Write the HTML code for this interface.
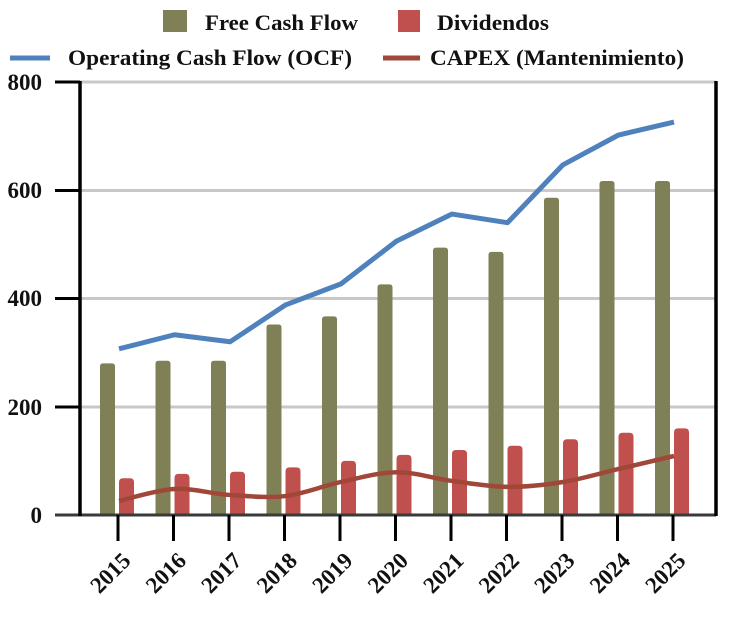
<!DOCTYPE html>
<html><head><meta charset="utf-8"><style>
body{margin:0;background:#fff}
svg text{font-family:"Liberation Serif",serif;font-weight:bold;fill:#111}
</style></head><body>
<svg width="750" height="613" viewBox="0 0 750 613" xmlns="http://www.w3.org/2000/svg">
<rect width="750" height="613" fill="#fff"/>
<rect x="163" y="10" width="24" height="22" fill="#7f8055"/>
<text x="205" y="30" font-size="22" textLength="153" lengthAdjust="spacingAndGlyphs">Free Cash Flow</text>
<rect x="398" y="10" width="22" height="22" fill="#c0504d"/>
<text x="437" y="30" font-size="22" textLength="112" lengthAdjust="spacingAndGlyphs">Dividendos</text>
<line x1="10" y1="58" x2="50" y2="58" stroke="#4f81bd" stroke-width="5"/>
<text x="68" y="65" font-size="22" textLength="284" lengthAdjust="spacingAndGlyphs">Operating Cash Flow (OCF)</text>
<line x1="383" y1="58" x2="420" y2="58" stroke="#a0473a" stroke-width="5"/>
<text x="430" y="65" font-size="22" textLength="254" lengthAdjust="spacingAndGlyphs">CAPEX (Mantenimiento)</text>
<g stroke="#c8c8c8" stroke-width="3">
<line x1="80" y1="82" x2="716" y2="82"/>
<line x1="80" y1="190.5" x2="716" y2="190.5"/>
<line x1="80" y1="298.5" x2="716" y2="298.5"/>
<line x1="80" y1="407" x2="716" y2="407"/>
</g>
<g font-size="23" text-anchor="end">
<text x="42" y="90">800</text><text x="42" y="198">600</text><text x="42" y="306">400</text><text x="42" y="415">200</text><text x="42" y="523">0</text>
</g>
<g stroke="#000" stroke-width="3">
<line x1="55" y1="82" x2="80" y2="82"/><line x1="55" y1="190.5" x2="80" y2="190.5"/><line x1="55" y1="298.5" x2="80" y2="298.5"/><line x1="55" y1="407" x2="80" y2="407"/>
</g>
<g id="bars"></g>
<polyline id="ocf" fill="none" stroke="#4f81bd" stroke-width="5" stroke-linejoin="round"/>
<path id="capex" fill="none" stroke="#a0473a" stroke-width="4.5"/>
<line x1="55" y1="515" x2="716" y2="515" stroke="#3a3a3a" stroke-width="3"/>
<line x1="80" y1="81" x2="80" y2="516" stroke="#000" stroke-width="3.5"/>
<line x1="716" y1="81" x2="716" y2="516" stroke="#000" stroke-width="3.5"/>
<g id="xt"></g>
</svg>
<script>
const ns="http://www.w3.org/2000/svg";
const fcf=[280,285,285,352,367,426,494,486,586,617,617];
const div=[68,76,80,88,100,111,120,128,140,152,160];
const ocf=[307,333,320,388,427,506,556,540,647,702,726];
const cap=[26,48,37,35,61,79,63,52,61,85,109];
const Y=v=>515-v*0.5413, X=i=>118+55.5*i;
const bars=document.getElementById('bars'),xt=document.getElementById('xt');
function el(t,a,p){const e=document.createElementNS(ns,t);for(const k in a)e.setAttribute(k,a[k]);p.appendChild(e);return e;}
let pts=[];
for(let i=0;i<11;i++){
 const c=X(i);
 el('path',{d:`M${c-18},515 V${Y(fcf[i])+3} q0,-3 3,-3 h9 q3,0 3,3 V515 Z`,fill:'#7f8055'},bars);
 el('path',{d:`M${c+1},515 V${Y(div[i])+4} q0,-4 4,-4 h7 q4,0 4,4 V515 Z`,fill:'#c0504d'},bars);
 pts.push(c+1+','+Y(ocf[i]));
 el('line',{x1:c,y1:515,x2:c,y2:541,stroke:'#000','stroke-width':3},xt);
 const t=el('text',{x:c+14,y:562,'font-size':23,'text-anchor':'end',transform:`rotate(-45 ${c+14} 562)`},xt);
 t.textContent=2015+i;
}
document.getElementById('ocf').setAttribute('points',pts.join(' '));
const P=cap.map((v,i)=>[X(i)+1,Y(v)]);
let d='M'+P[0];
for(let i=0;i<P.length-1;i++){
 const p0=P[i-1]||P[i],p1=P[i],p2=P[i+1],p3=P[i+2]||P[i+1];
 const c1=[p1[0]+(p2[0]-p0[0])/6,p1[1]+(p2[1]-p0[1])/6],c2=[p2[0]-(p3[0]-p1[0])/6,p2[1]-(p3[1]-p1[1])/6];
 d+=` C${c1} ${c2} ${p2}`;
}
document.getElementById('capex').setAttribute('d',d);
</script>
</body></html>
